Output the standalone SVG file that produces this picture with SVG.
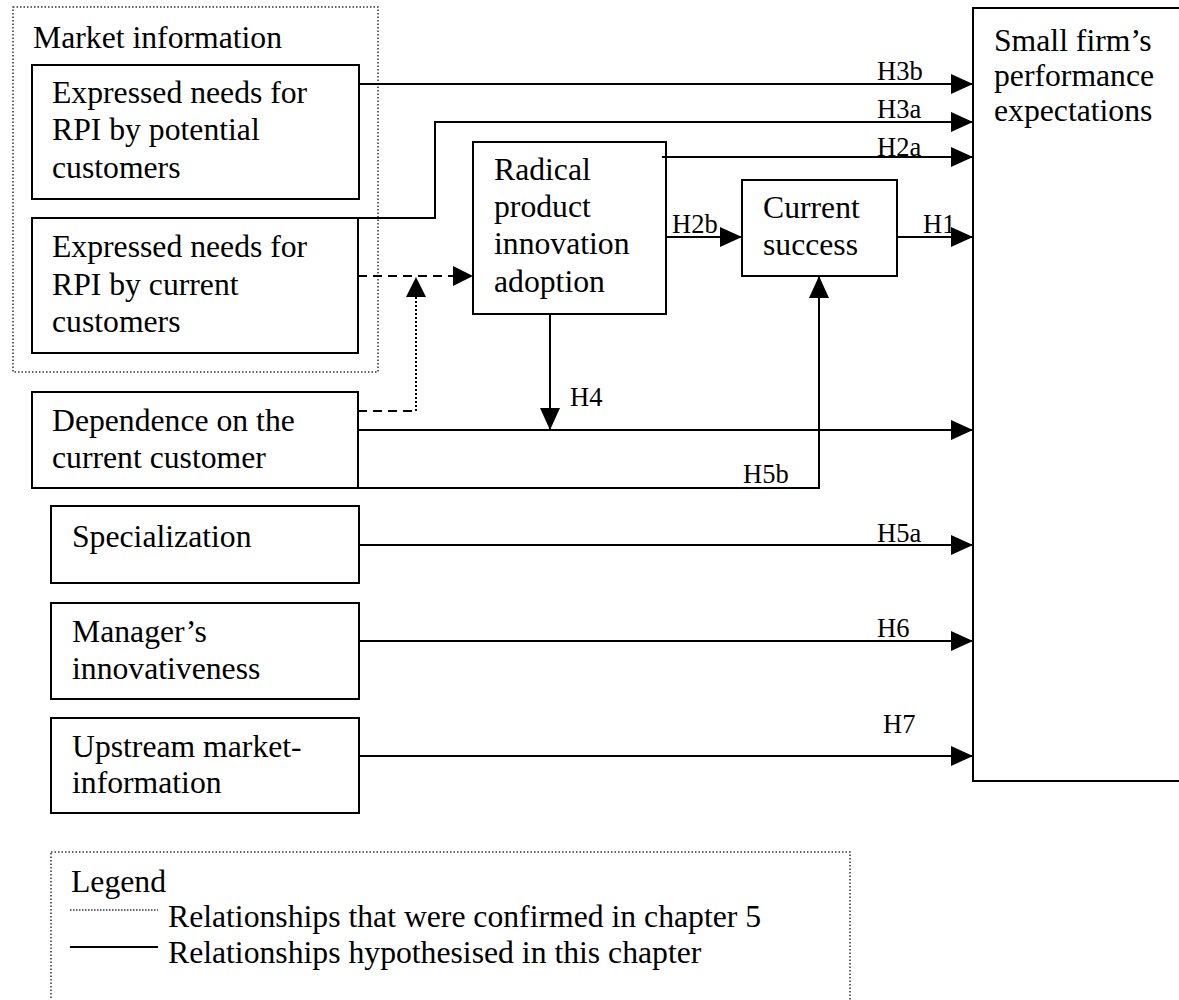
<svg xmlns="http://www.w3.org/2000/svg" width="1179" height="1000" viewBox="0 0 1179 1000">
<style>
.box{fill:#fff;stroke:#000;stroke-width:2}
.grp{fill:none;stroke:#333;stroke-width:1.5;stroke-dasharray:1.5 2}
.t{font-family:"Liberation Serif","Times New Roman",serif;font-size:31.7px;fill:#000}
.h{font-family:"Liberation Serif","Times New Roman",serif;font-size:26.5px;fill:#000}
.c{fill:none;stroke:#000;stroke-width:2}
.dash{fill:none;stroke:#000;stroke-width:2;stroke-dasharray:9 6}
.dot{fill:none;stroke:#000;stroke-width:2;stroke-dasharray:2 2}
</style>
<defs>
<marker id="arr" markerUnits="userSpaceOnUse" markerWidth="22" markerHeight="20" refX="22" refY="10" orient="auto" viewBox="0 0 22 20">
<path d="M0,0 L22,10 L0,20 z" fill="#000"/>
</marker>
</defs>
<rect width="1179" height="1000" fill="#fff"/>

<g id="market-information">
<rect class="grp" x="13" y="7" width="365" height="365"/>
<text class="t" x="33" y="48">Market information</text>
</g>

<g id="potential-customers">
<rect class="box" x="32" y="65" width="327" height="134"/>
<text class="t" x="52" y="103">Expressed needs for</text>
<text class="t" x="52" y="140">RPI by potential</text>
<text class="t" x="52" y="178">customers</text>
</g>

<g id="current-customers">
<rect class="box" x="32" y="218" width="326" height="135"/>
<text class="t" x="52" y="257">Expressed needs for</text>
<text class="t" x="52" y="295">RPI by current</text>
<text class="t" x="52" y="332">customers</text>
</g>

<g id="radical">
<rect class="box" x="473" y="142" width="193" height="172"/>
<text class="t" x="494" y="180">Radical</text>
<text class="t" x="494" y="217">product</text>
<text class="t" x="494" y="254">innovation</text>
<text class="t" x="494" y="292">adoption</text>
</g>

<g id="current-success">
<rect class="box" x="742" y="180" width="155" height="96"/>
<text class="t" x="763" y="218">Current</text>
<text class="t" x="763" y="255">success</text>
</g>

<g id="dependence">
<rect class="box" x="32" y="392" width="326" height="96"/>
<text class="t" x="52" y="431">Dependence on the</text>
<text class="t" x="52" y="468">current customer</text>
</g>

<g id="specialization">
<rect class="box" x="51" y="506" width="308" height="77"/>
<text class="t" x="72" y="547">Specialization</text>
</g>

<g id="manager">
<rect class="box" x="51" y="603" width="308" height="96"/>
<text class="t" x="72" y="642">Manager’s</text>
<text class="t" x="72" y="679">innovativeness</text>
</g>

<g id="upstream">
<rect class="box" x="51" y="718" width="308" height="95"/>
<text class="t" x="72" y="757">Upstream market-</text>
<text class="t" x="72" y="793">information</text>
</g>

<g id="performance">
<rect class="box" x="973" y="8" width="220" height="773"/>
<text class="t" x="994" y="51">Small firm’s</text>
<text class="t" x="994" y="86">performance</text>
<text class="t" x="994" y="121">expectations</text>
</g>

<g id="connectors">
<path class="c" d="M359,84 H973" marker-end="url(#arr)"/>
<path class="c" d="M358,218 H435 V122 H973" marker-end="url(#arr)"/>
<path class="c" d="M662,157 H973" marker-end="url(#arr)"/>
<path class="c" d="M666,237 H742" marker-end="url(#arr)"/>
<path class="c" d="M897,237 H973" marker-end="url(#arr)"/>
<path class="dash" d="M358,276 H455"/>
<path d="M453,266 L473,276 L453,286 z" fill="#000"/>
<path class="dash" d="M358,411 H416"/>
<path class="dot" d="M416,411 V296"/>
<path d="M406,297 L416,277 L426,297 z" fill="#000"/>
<path class="c" d="M550,314 V430" marker-end="url(#arr)"/>
<path class="c" d="M358,430 H973" marker-end="url(#arr)"/>
<path class="c" d="M358,488 H819 V276" marker-end="url(#arr)"/>
<path class="c" d="M359,545 H973" marker-end="url(#arr)"/>
<path class="c" d="M359,641 H973" marker-end="url(#arr)"/>
<path class="c" d="M359,756 H973" marker-end="url(#arr)"/>
<text class="h" x="877" y="80">H3b</text>
<text class="h" x="877" y="118">H3a</text>
<text class="h" x="877" y="156">H2a</text>
<text class="h" x="672" y="233">H2b</text>
<text class="h" x="923" y="233">H1</text>
<text class="h" x="570" y="406">H4</text>
<text class="h" x="743" y="483">H5b</text>
<text class="h" x="877" y="542">H5a</text>
<text class="h" x="877" y="637">H6</text>
<text class="h" x="883" y="733">H7</text>
</g>

<g id="legend">
<rect class="grp" x="51" y="852" width="799" height="170"/>
<text class="t" x="71" y="892">Legend</text>
<path d="M70,910 H158" fill="none" stroke="#333" stroke-width="1.5" stroke-dasharray="1.5 1.5"/>
<text class="t" x="168" y="927">Relationships that were confirmed in chapter 5</text>
<path class="c" d="M70,947 H158"/>
<text class="t" x="168" y="963">Relationships hypothesised in this chapter</text>
</g>
</svg>
